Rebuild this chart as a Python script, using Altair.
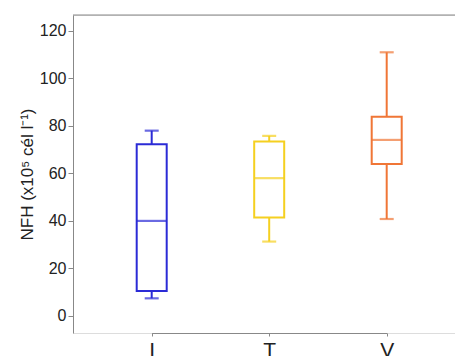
import altair as alt
import pandas as pd

categories = ["I", "T", "V"]
lower = [7.4, 31.3, 40.8]
q1 = [10.5, 41.4, 64.0]
median = [40.0, 58.0, 74.1]
q3 = [72.3, 73.4, 83.9]
upper = [78.0, 75.8, 111.0]
colors = ["#2b2bd6", "#f5d020", "#f07636"]

df = pd.DataFrame({"cat": categories, "lower": lower, "q1": q1,
                   "median": median, "q3": q3, "upper": upper})

W, H = 382, 318
xscale = alt.Scale(type="point", domain=categories, range=[78.7, 313.7], padding=0)
yscale = alt.Scale(domain=[-7.2, 126.7], nice=False, zero=False)
cscale = alt.Scale(domain=categories, range=colors)

x = alt.X("cat:N", scale=xscale, sort=categories,
          axis=alt.Axis(title=None, labelAngle=0, labelFontSize=21, tickSize=3,
                        labelPadding=3, domainColor="#888", tickColor="#888",
                        labelColor="#222", labelFont="Liberation Sans"))
y = alt.Y("lower:Q", scale=yscale,
          axis=alt.Axis(title="NFH (x10⁵ cél l⁻¹)", values=[0, 20, 40, 60, 80, 100, 120],
                        grid=False, tickSize=5, labelPadding=2, labelFontSize=16,
                        titleFontSize=17, titleFontWeight="normal", titlePadding=3,
                        domainColor="#888", tickColor="#888", labelColor="#222",
                        titleColor="#222", labelFont="Liberation Sans",
                        titleFont="Liberation Sans"))
color = alt.Color("cat:N", scale=cscale, legend=None)

base = alt.Chart(df)

whisker = base.mark_rule(strokeWidth=2).encode(x=x, y=y, y2="upper:Q", color=color)
box = base.mark_bar(size=30, fill="white", strokeWidth=2).encode(
    x=x, y=alt.Y("q1:Q", scale=yscale), y2="q3:Q", stroke=alt.Stroke("cat:N", scale=cscale, legend=None))
med = base.mark_tick(size=30, thickness=2.2).encode(x=x, y=alt.Y("median:Q", scale=yscale), color=color)
cap_lo = base.mark_tick(size=14, thickness=2.2).encode(x=x, y=alt.Y("lower:Q", scale=yscale), color=color)
cap_hi = base.mark_tick(size=14, thickness=2.2).encode(x=x, y=alt.Y("upper:Q", scale=yscale), color=color)
top_line = alt.Chart(pd.DataFrame({"a": [0]})).mark_rule(color="#888", strokeWidth=1).encode(y=alt.value(0))

chart = alt.layer(whisker, box, med, cap_lo, cap_hi, top_line).properties(
    width=W, height=H,
    autosize=alt.AutoSizeParams(type="none"),
    padding={"left": 73, "top": 15, "right": 0, "bottom": 23},
).configure_view(strokeWidth=0).configure(background="white")

chart.save("out.html", embed_options={"renderer": "svg", "actions": False})
